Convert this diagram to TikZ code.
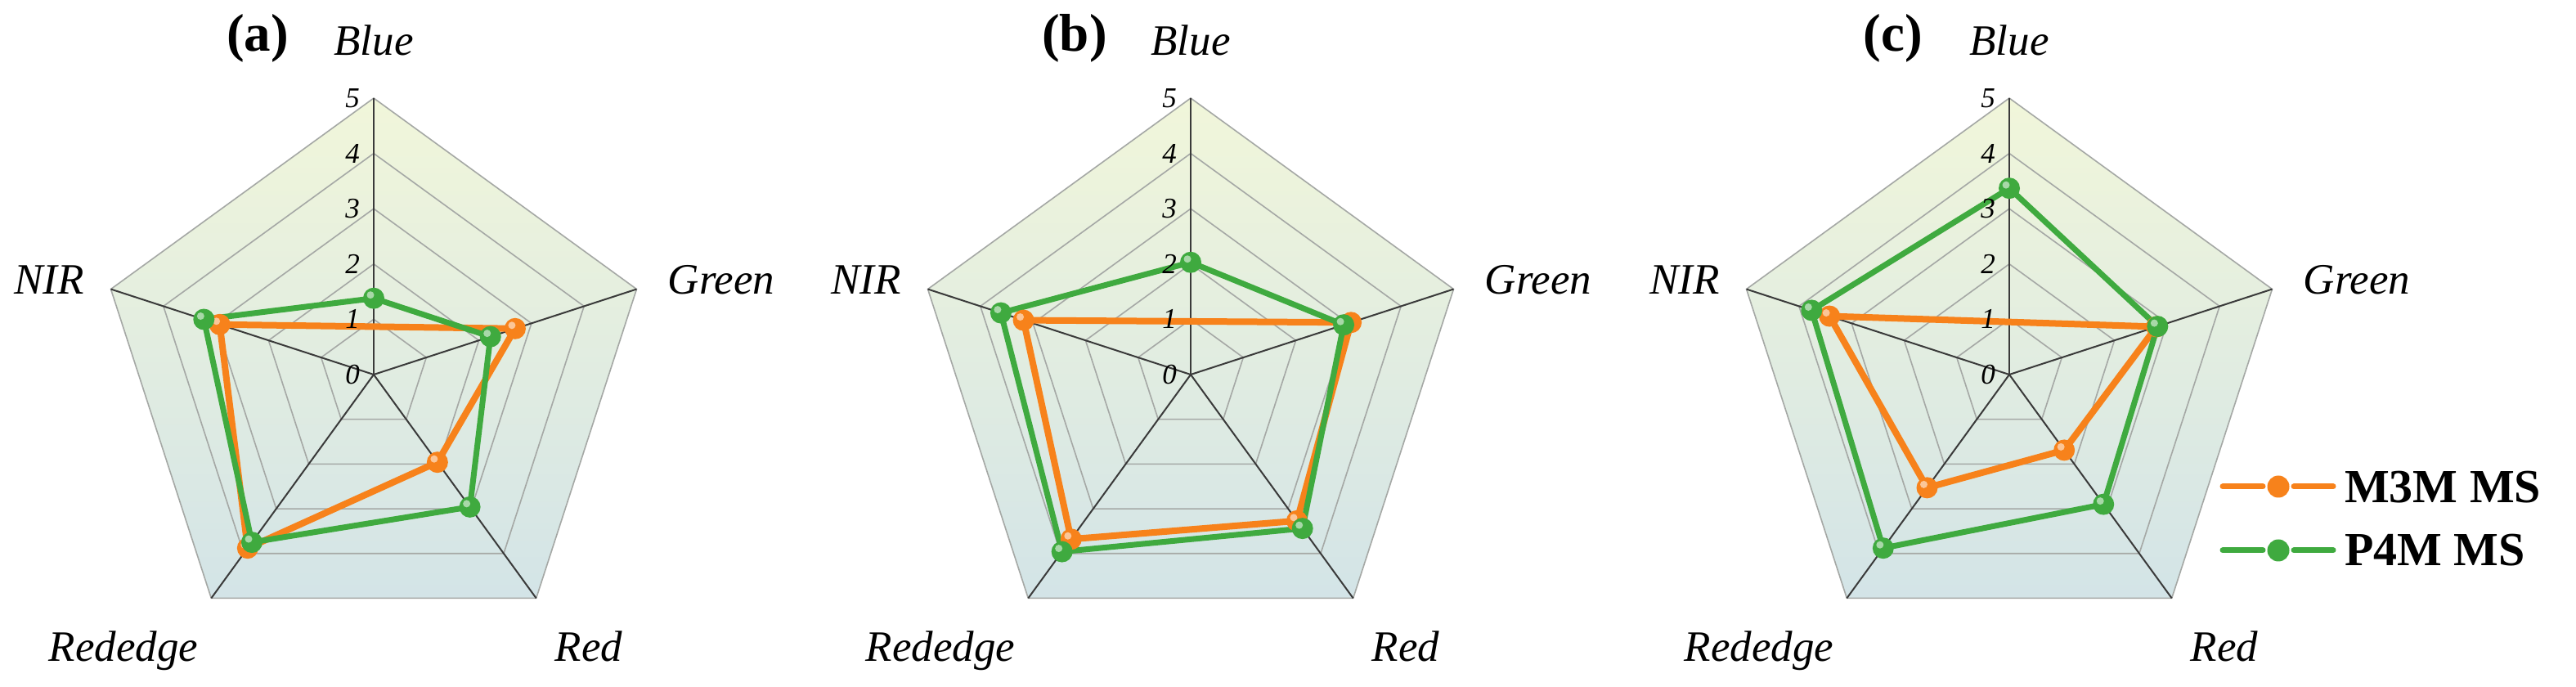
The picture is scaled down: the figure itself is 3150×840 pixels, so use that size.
\documentclass[tikz,border=0pt]{standalone}
\usepackage{fontspec}
\setmainfont{Liberation Serif}
\usetikzlibrary{calc}
\definecolor{ocol}{HTML}{F7821B}
\definecolor{gcol}{HTML}{3FAA3F}
\definecolor{bgtop}{HTML}{F1F6DA}
\definecolor{bgbot}{HTML}{D3E4E7}
\definecolor{gridc}{HTML}{A5A8A5}
\definecolor{axisc}{HTML}{3A3A3A}
\tikzset{
 gridline/.style={draw=gridc, line width=1.6pt},
 axisline/.style={draw=axisc, line width=2pt},
 oline/.style={draw=ocol, line width=8pt, line join=round},
 gline/.style={draw=gcol, line width=7pt, line join=round},
 axlab/.style={font=\fontsize{53}{60}\selectfont\itshape, inner sep=0pt},
 ticklab/.style={font=\fontsize{35}{40}\selectfont\itshape, inner sep=0pt},
 panlab/.style={font=\fontsize{65}{70}\selectfont\bfseries, inner sep=0pt},
 leglab/.style={font=\fontsize{58}{64}\selectfont\bfseries, inner sep=0pt},
 legline/.style={line width=7pt, line cap=round},
 omark/.pic={\fill[ocol] (0,0) circle (13); \fill[white,opacity=.55] (-4,4) circle (4.5);},
 gmark/.pic={\fill[gcol] (0,0) circle (13); \fill[white,opacity=.55] (-4,4) circle (4.5);},
}
\def\U{67.6}
\newcommand\myradar[3]{%
 \coordinate (#1c) at (#2,382);
 \foreach \a/\n in {90/B,18/G,-54/R,-126/E,162/N}{\coordinate (#1v\n) at ($(#1c)+(\a:338)$);}
 \shade[top color=bgtop,bottom color=bgbot] (#1vB) -- (#1vG) -- (#1vR) -- (#1vE) -- (#1vN) -- cycle;
 \foreach \k in {1,2,3,4,5}{\draw[gridline] ($(#1c)+(90:{\k*\U})$) -- ($(#1c)+(18:{\k*\U})$) -- ($(#1c)+(-54:{\k*\U})$) -- ($(#1c)+(-126:{\k*\U})$) -- ($(#1c)+(162:{\k*\U})$) -- cycle;}
 \foreach \n in {B,G,R,E,N}{\draw[axisline] (#1c) -- (#1v\n);}
 \coordinate (#1gB) at ($(#1c)+(90:{\datgB*\U})$);
 \coordinate (#1gG) at ($(#1c)+(18:{\datgG*\U})$);
 \coordinate (#1gR) at ($(#1c)+(-54:{\datgR*\U})$);
 \coordinate (#1gE) at ($(#1c)+(-126:{\datgE*\U})$);
 \coordinate (#1gN) at ($(#1c)+(162:{\datgN*\U})$);
 \coordinate (#1oG) at ($(#1c)+(18:{\datoG*\U})$);
 \coordinate (#1oR) at ($(#1c)+(-54:{\datoR*\U})$);
 \coordinate (#1oE) at ($(#1c)+(-126:{\datoE*\U})$);
 \coordinate (#1oN) at ($(#1c)+(162:{\datoN*\U})$);
 \draw[oline] (#1oG) -- (#1oR) -- (#1oE) -- (#1oN) -- cycle;
 \draw[gline] (#1gB) -- (#1gG) -- (#1gR) -- (#1gE) -- (#1gN) -- cycle;
 \foreach \n in {G,R,E,N}{\pic at (#1o\n) {omark};}
 \foreach \n in {B,G,R,E,N}{\pic at (#1g\n) {gmark};}
 \foreach \k in {0,...,5}{\node[ticklab] (#1t\k) at ($(#1c)+(-26,{\k*\U})$) {\k};}
 \node[panlab,anchor=base] (#1let) at ($(#1c)+(-142,395)$) {(#3)};
 \node[axlab,anchor=base] (#1lB) at ($(#1c)+(0,390)$) {Blue};
 \node[axlab,anchor=base] (#1lN) at ($(#1c)+(-397,98)$) {NIR};
 \node[axlab,anchor=base] (#1lG) at ($(#1c)+(425,98)$) {Green};
 \node[axlab,anchor=base] (#1lE) at ($(#1c)+(-306,-351)$) {Rededge};
 \node[axlab,anchor=base] (#1lR) at ($(#1c)+(263,-351)$) {Red};
}
\begin{document}
\begin{tikzpicture}[x=1pt,y=1pt]
\useasboundingbox (0,0) rectangle (3150,840);
\fill[white] (0,0) rectangle (3150,840);
% panel a
\def\datgB{1.38}\def\datgG{2.22}\def\datgR{2.96}\def\datgE{3.75}\def\datgN{3.23}
\def\datoG{2.69}\def\datoR{1.96}\def\datoE{3.88}\def\datoN{2.93}
\myradar{a}{457}{a}
% panel b
\def\datgB{2.03}\def\datgG{2.91}\def\datgR{3.44}\def\datgE{3.96}\def\datgN{3.61}
\def\datoG{3.05}\def\datoR{3.27}\def\datoE{3.68}\def\datoN{3.18}
\myradar{b}{1456}{b}
% panel c
\def\datgB{3.37}\def\datgG{2.82}\def\datgR{2.90}\def\datgE{3.88}\def\datgN{3.76}
\def\datoG{2.80}\def\datoR{1.69}\def\datoE{2.53}\def\datoN{3.42}
\myradar{c}{2457}{c}
% legend
\coordinate (lo1) at (2718,245); \coordinate (lo2) at (2767,245);
\coordinate (lo3) at (2805,245); \coordinate (lo4) at (2853,245);
\coordinate (lg1) at (2718,167); \coordinate (lg2) at (2767,167);
\coordinate (lg3) at (2805,167); \coordinate (lg4) at (2853,167);
\draw[legline,ocol] (lo1) -- (lo2);
\draw[legline,ocol] (lo3) -- (lo4);
\fill[ocol] (2786,245) circle (13.5);
\draw[legline,gcol] (lg1) -- (lg2);
\draw[legline,gcol] (lg3) -- (lg4);
\fill[gcol] (2786,167) circle (13.5);
\node[leglab,anchor=base west] (legm3m) at (2867,225) {M3M MS};
\node[leglab,anchor=base west] (legp4m) at (2867,148) {P4M MS};
\end{tikzpicture}
\end{document}
